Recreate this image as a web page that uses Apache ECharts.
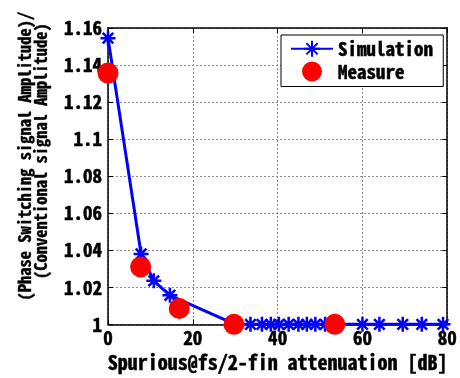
<!DOCTYPE html>
<html>
<head>
<meta charset="utf-8">
<script src="https://cdn.jsdelivr.net/npm/echarts@6/dist/echarts.min.js"></script>
<style>
  html, body { margin: 0; padding: 0; background: #fff; }
  #chart { width: 460px; height: 378px; }
</style>
</head>
<body>
<div id="chart"></div>
<script>
// Simulated amplitude ratio vs. spurious attenuation
const simX = [0, 7.8, 10.8, 14.6, 30, 33.6, 36.3, 38.4, 40.3, 42.6, 44.9, 46.9, 48.9, 51.2, 53.5, 60, 64, 69.5, 74, 79];
const simY = [1.1545, 1.038, 1.0235, 1.0157, 1.0, 1.0, 1.0, 1.0, 1.0, 1.0, 1.0, 1.0, 1.0, 1.0, 1.0, 1.0, 1.0, 1.0, 1.0, 1.0];
// Measured points
const measX = [0, 7.7, 16.8, 29.7, 53.5];
const measY = [1.1357, 1.031, 1.0086, 1.0, 1.0];

const xTicks = { min: 0, max: 80, interval: 20 };
const yTicks = { min: 1, max: 1.16, interval: 0.02 };

const FONT = '"Noto Sans Mono CJK JP", "DejaVu Sans Mono", monospace';
const asterisk = 'path://M0,-10L0,10M-10,0L10,0M-7.07,-7.07L7.07,7.07M-7.07,7.07L7.07,-7.07';

const chart = echarts.init(document.getElementById('chart'), null, { renderer: 'canvas' });

const heavy = { textBorderColor: '#000', textBorderWidth: 0.5 };
const gridLine = { show: true, lineStyle: { color: '#8c8c8c', type: [2, 2], width: 1 } };
const frame = { show: true, onZero: false, lineStyle: { color: '#000', width: 1.5 } };
const tickIn = { show: true, inside: true, length: 5, lineStyle: { color: '#000', width: 1 } };

chart.setOption({
  animation: false,
  grid: { left: 108, right: 12, top: 28, bottom: 52, containLabel: false },
  xAxis: [{
    type: 'value', min: xTicks.min, max: xTicks.max, interval: xTicks.interval,
    position: 'bottom',
    axisLine: frame, axisTick: tickIn, splitLine: gridLine,
    axisLabel: Object.assign({ color: '#000', fontFamily: FONT, fontWeight: 'bold', fontSize: 19, margin: 4 }, heavy),
    name: 'Spurious@fs/2-fin attenuation [dB]', nameLocation: 'middle', nameGap: 27,
    nameTextStyle: Object.assign({ color: '#000', fontFamily: FONT, fontWeight: 'bold', fontSize: 20 }, heavy)
  }, {
    type: 'value', min: xTicks.min, max: xTicks.max, interval: xTicks.interval,
    position: 'top',
    axisLine: frame, axisTick: tickIn, splitLine: { show: false }, axisLabel: { show: false }
  }],
  yAxis: [{
    type: 'value', min: yTicks.min, max: yTicks.max, interval: yTicks.interval,
    position: 'left',
    axisLine: frame, axisTick: tickIn, splitLine: gridLine,
    axisLabel: Object.assign({ color: '#000', fontFamily: FONT, fontWeight: 'bold', fontSize: 19, margin: 6 }, heavy)
  }, {
    type: 'value', min: yTicks.min, max: yTicks.max, interval: yTicks.interval,
    position: 'right',
    axisLine: frame, axisTick: tickIn, splitLine: { show: false }, axisLabel: { show: false }
  }],
  legend: {
    left: 281, top: 35, orient: 'vertical',
    backgroundColor: '#fff', borderColor: '#000', borderWidth: 1, borderRadius: 0,
    padding: [4, 10, 5, 9], itemGap: 3, itemWidth: 42, itemHeight: 20,
    textStyle: Object.assign({ color: '#000', fontFamily: FONT, fontWeight: 'bold', fontSize: 19, padding: [0, 0, 0, 0] }, heavy),
    data: ['Simulation', 'Measure']
  },
  graphic: [{
    type: 'text', x: 25, y: 156, rotation: Math.PI / 2,
    style: { text: '(Phase Switching signal Amplitude)/', fill: '#000', stroke: '#000', lineWidth: 0.4,
      font: 'bold 16.5px ' + FONT, textAlign: 'center', textVerticalAlign: 'middle' }
  }, {
    type: 'text', x: 41, y: 151, rotation: Math.PI / 2,
    style: { text: '(Conventional signal Amplitude)', fill: '#000', stroke: '#000', lineWidth: 0.4,
      font: 'bold 16.5px ' + FONT, textAlign: 'center', textVerticalAlign: 'middle' }
  }],
  series: [{
    name: 'Simulation', type: 'line',
    data: simX.map((x, i) => [x, simY[i]]),
    symbol: asterisk, symbolSize: 15, showAllSymbol: true,
    lineStyle: { color: '#0000ff', width: 3 },
    itemStyle: { color: '#0000ff', borderColor: '#0000ff', borderWidth: 2.5 },
    z: 2
  }, {
    name: 'Measure', type: 'scatter',
    data: measX.map((x, i) => [x, measY[i]]),
    symbol: 'circle', symbolSize: 21,
    itemStyle: { color: '#ff0000', opacity: 1 },
    z: 3
  }]
});
</script>
</body>
</html>
